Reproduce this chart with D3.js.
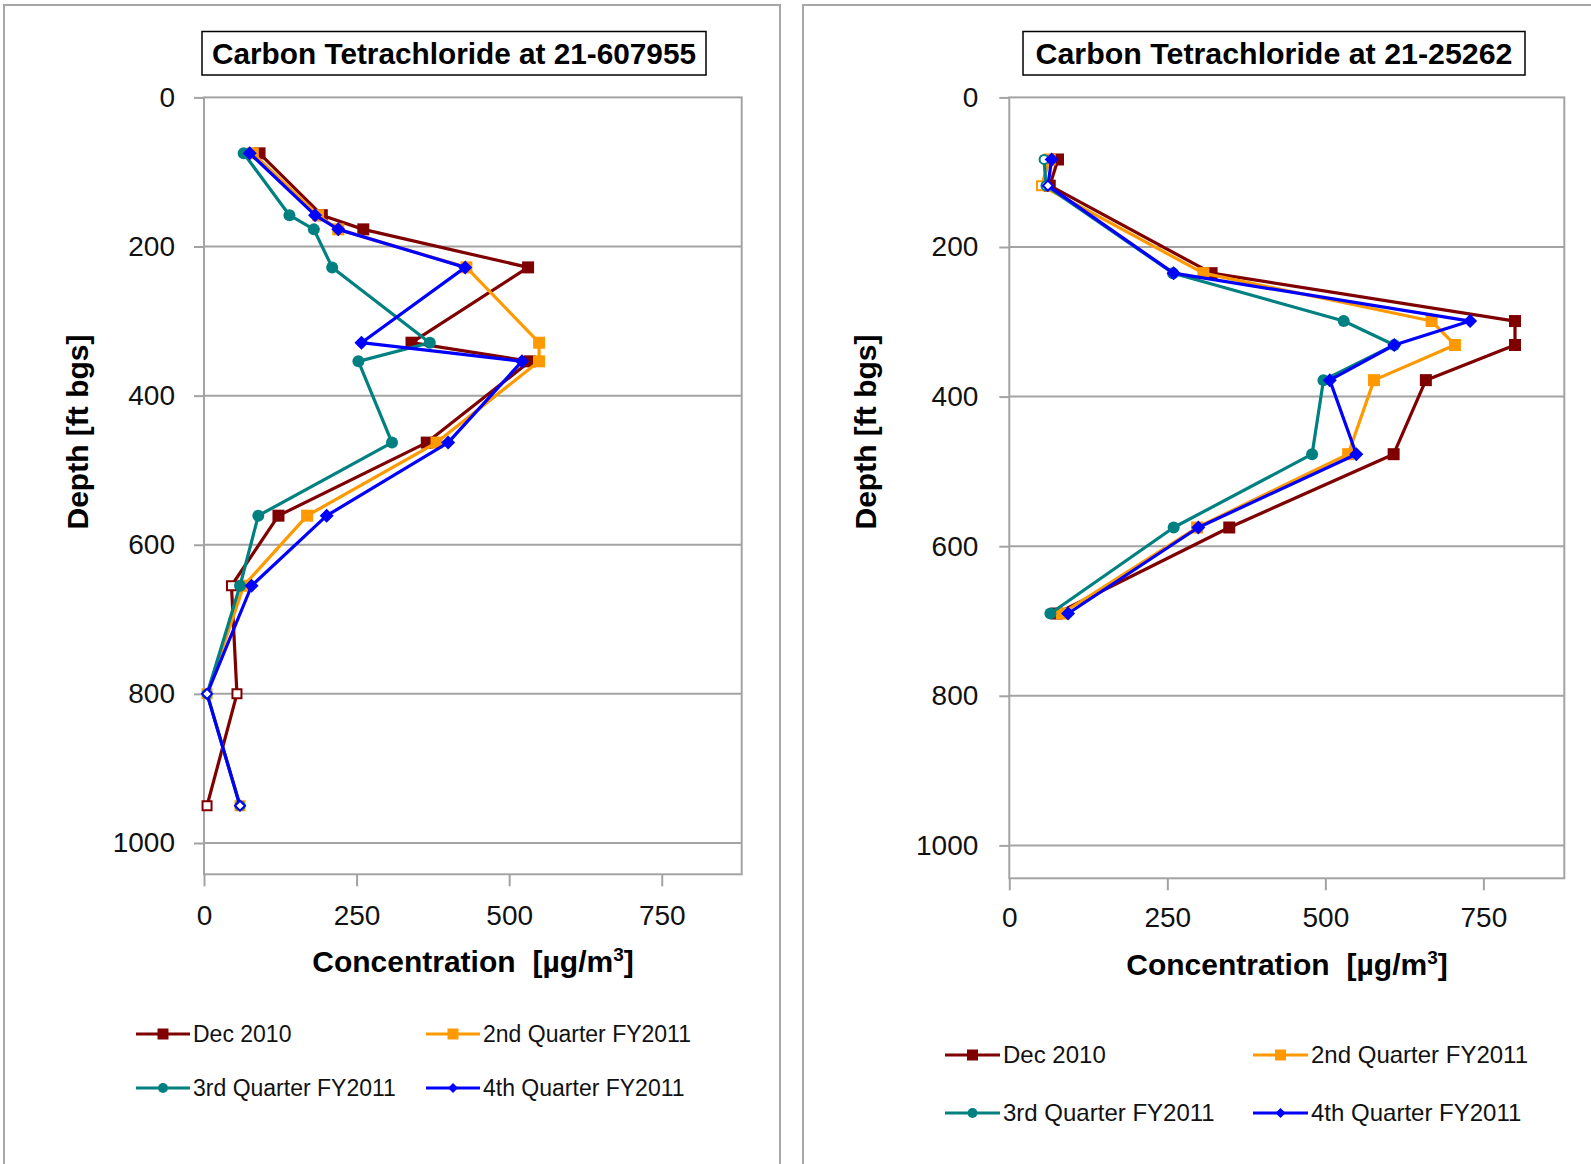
<!DOCTYPE html>
<html>
<head>
<meta charset="utf-8">
<script src="https://cdn.jsdelivr.net/npm/d3@7"></script>
<style>
  body { margin: 0; background: #fff; }
  svg { display: block; font-family: "Liberation Sans", Arial, sans-serif; }
</style>
</head>
<body>
<svg id="chart" width="1591" height="1164"></svg>
<script>
// ---- data ---------------------------------------------------------------
const seriesNames = ["Dec 2010", "2nd Quarter FY2011", "3rd Quarter FY2011", "4th Quarter FY2011"];
const xTicks = [0, 250, 500, 750];
const yTicks = [0, 200, 400, 600, 800, 1000];

// Well 21-607955: sample depths (ft bgs) and carbon tetrachloride (µg/m3)
const depths607955 = [75, 158, 177, 228, 329, 354, 463, 561, 655, 800, 950];
const dec607955 = [91, 193, 261, 531, 340, 534, 365, 122, 45, 54, 5];
const q2_607955 = [80, 187, 220, 430, 549, 549, 381, 169, 65, 5, 59];
const q3_607955 = [65, 140, 180, 210, 370, 253, 308, 89, 59, 5, 59];
const q4_607955 = [75, 182, 220, 428, 258, 521, 400, 201, 78, 5, 59];
// 1 = not detected (hollow marker)
const decND607955 = [0, 0, 0, 0, 0, 0, 0, 0, 1, 1, 1];
const q2ND607955 = [0, 0, 0, 0, 0, 0, 0, 0, 0, 1, 1];
const q3ND607955 = [0, 0, 0, 0, 0, 0, 0, 0, 0, 1, 1];
const q4ND607955 = [0, 0, 0, 0, 0, 0, 0, 0, 0, 1, 1];

// Well 21-25262
const depths25262 = [83, 118, 235, 299, 331, 378, 477, 575, 690];
const dec25262 = [77, 64, 320, 800, 800, 659, 608, 348, 75];
const q2_25262 = [64, 51, 307, 668, 705, 577, 536, 297, 83];
const q3_25262 = [55, 58, 259, 529, 609, 497, 479, 260, 65];
const q4_25262 = [67, 61, 260, 729, 609, 507, 549, 299, 93];
const decND25262 = [0, 0, 0, 0, 0, 0, 0, 0, 0];
const q2ND25262 = [0, 1, 0, 0, 0, 0, 0, 0, 0];
const q3ND25262 = [1, 1, 0, 0, 0, 0, 0, 0, 0];
const q4ND25262 = [0, 1, 0, 0, 0, 0, 0, 0, 0];

// ---- styling ------------------------------------------------------------
const colors = ["#7f0000", "#ff9900", "#008080", "#0000ff"];
const shapes = ["square", "square", "circle", "diamond"];
const gridColor = "#a3a3a3";

const svg = d3.select("#chart");

// panel frames
svg.append("rect").attr("x", 4).attr("y", 5).attr("width", 776).attr("height", 1200)
  .attr("fill", "none").attr("stroke", "#a6a6a6").attr("stroke-width", 2);
svg.append("rect").attr("x", 803).attr("y", 5).attr("width", 900).attr("height", 1200)
  .attr("fill", "none").attr("stroke", "#a6a6a6").attr("stroke-width", 2);

function markerPath(shape, size) {
  if (shape === "circle") return d3.symbol(d3.symbolCircle, Math.PI * (size / 2) ** 2)();
  if (shape === "diamond") {
    const h = size / 2;
    return `M0,${-h}L${h},0L0,${h}L${-h},0Z`;
  }
  return d3.symbol(d3.symbolSquare, size * size)();
}

function drawMarker(g, shape, color, cx, cy, open) {
  const size = open ? (shape === "diamond" ? 10 : 9) : (shape === "diamond" ? 14 : 12);
  g.append("path")
    .attr("d", markerPath(shape, size))
    .attr("transform", `translate(${cx},${cy})`)
    .attr("fill", open ? "#fff" : color)
    .attr("stroke", color)
    .attr("stroke-width", open ? 2 : 0);
}

function drawChart(cfg) {
  const x = d3.scaleLinear().domain([0, cfg.xMax]).range([cfg.left, cfg.right]);
  const y = d3.scaleLinear().domain([0, cfg.yMax]).range([cfg.top, cfg.bottom]);
  const g = svg.append("g");

  // horizontal gridlines
  g.append("g").selectAll("line").data(yTicks.filter(d => d > 0)).join("line")
    .attr("x1", cfg.left).attr("x2", cfg.right)
    .attr("y1", d => y(d)).attr("y2", d => y(d))
    .attr("stroke", gridColor).attr("stroke-width", 2);

  // plot area border
  g.append("rect")
    .attr("x", cfg.left).attr("y", cfg.top)
    .attr("width", cfg.right - cfg.left).attr("height", cfg.bottom - cfg.top)
    .attr("fill", "none").attr("stroke", gridColor).attr("stroke-width", 2);

  // axes
  const yAxis = g.append("g").attr("transform", `translate(${cfg.left},0)`)
    .call(d3.axisLeft(y).tickValues(yTicks).tickFormat(d3.format("d"))
      .tickSize(10).tickPadding(cfg.yPad));
  const xAxis = g.append("g").attr("transform", `translate(0,${cfg.bottom})`)
    .call(d3.axisBottom(x).tickValues(xTicks).tickFormat(d3.format("d"))
      .tickSize(12).tickPadding(cfg.xPad));
  [yAxis, xAxis].forEach(a => {
    a.select(".domain").remove();
    a.selectAll(".tick line").attr("stroke", gridColor).attr("stroke-width", 2);
    a.selectAll(".tick text").attr("fill", "#111").attr("font-size", 28)
      .attr("font-family", "'Liberation Sans', Arial, sans-serif");
  });

  // series: line then markers, in legend order
  cfg.series.forEach((vals, si) => {
    const pts = vals.map((v, i) => [x(v), y(cfg.depths[i]), cfg.nd[si][i]]);
    g.append("path")
      .attr("d", d3.line()(pts.map(p => [p[0], p[1]])))
      .attr("fill", "none").attr("stroke", colors[si]).attr("stroke-width", 3.2)
      .attr("stroke-linejoin", "round");
    pts.forEach(p => drawMarker(g, shapes[si], colors[si], p[0], p[1], p[2] === 1));
  });

  // title box
  g.append("rect")
    .attr("x", cfg.titleBox[0]).attr("y", cfg.titleBox[1])
    .attr("width", cfg.titleBox[2]).attr("height", cfg.titleBox[3])
    .attr("fill", "#fff").attr("stroke", "#000").attr("stroke-width", 1.5);
  g.append("text")
    .attr("x", cfg.titleBox[0] + cfg.titleBox[2] / 2)
    .attr("y", cfg.titleBox[1] + cfg.titleBox[3] / 2 + 11)
    .attr("text-anchor", "middle").attr("font-size", 30).attr("font-weight", "bold")
    .attr("textLength", cfg.titleLen).attr("lengthAdjust", "spacingAndGlyphs")
    .text(cfg.title);

  // axis titles
  g.append("text")
    .attr("transform", `translate(${cfg.yTitle[0]},${cfg.yTitle[1]}) rotate(-90)`)
    .attr("text-anchor", "middle").attr("dy", "0.35em")
    .attr("font-size", 30).attr("font-weight", "bold")
    .text("Depth [ft bgs]");
  const xt = g.append("text")
    .attr("x", cfg.xTitle[0]).attr("y", cfg.xTitle[1])
    .attr("text-anchor", "middle").attr("dy", "0.35em")
    .attr("font-size", 30).attr("font-weight", "bold");
  xt.append("tspan").text("Concentration");
  xt.append("tspan").attr("dx", 17).text("[µg/m");
  xt.append("tspan").attr("font-size", 19).attr("dy", -11).text("3");
  xt.append("tspan").attr("dy", 11).text("]");

  // legend (2 x 2)
  const lg = cfg.legend;
  seriesNames.forEach((name, si) => {
    const col = si % 2, row = Math.floor(si / 2);
    const lx = lg.cols[col], ly = lg.rows[row];
    g.append("line").attr("x1", lx).attr("x2", lx + lg.len).attr("y1", ly).attr("y2", ly)
      .attr("stroke", colors[si]).attr("stroke-width", 3);
    const s = shapes[si] === "diamond" ? 10 : (shapes[si] === "circle" ? 10 : 11);
    g.append("path").attr("d", markerPath(shapes[si], s))
      .attr("transform", `translate(${lx + lg.len / 2},${ly})`)
      .attr("fill", colors[si]);
    g.append("text").attr("x", lx + lg.len + 3).attr("y", ly).attr("dy", "0.35em")
      .attr("font-size", lg.font).attr("fill", "#111").text(name);
  });
}

drawChart({
  title: "Carbon Tetrachloride at 21-607955", titleLen: 484,
  left: 204, right: 741.7, top: 97.4, bottom: 874.3,
  xMax: 881, yMax: 1042, yPad: 19, xPad: 19,
  depths: depths607955,
  series: [dec607955, q2_607955, q3_607955, q4_607955],
  nd: [decND607955, q2ND607955, q3ND607955, q4ND607955],
  titleBox: [202, 31.5, 504, 43.5],
  yTitle: [77, 432], xTitle: [473, 961],
  legend: { cols: [136, 426], rows: [1034, 1088], len: 54, font: 23 }
});

drawChart({
  title: "Carbon Tetrachloride at 21-25262", titleLen: 477,
  left: 1009.3, right: 1564.3, top: 97.4, bottom: 878.3,
  xMax: 878, yMax: 1044, yPad: 21, xPad: 17,
  depths: depths25262,
  series: [dec25262, q2_25262, q3_25262, q4_25262],
  nd: [decND25262, q2ND25262, q3ND25262, q4ND25262],
  titleBox: [1023, 31.5, 502, 43.5],
  yTitle: [865.5, 432], xTitle: [1287, 964],
  legend: { cols: [945, 1253], rows: [1055, 1113], len: 55, font: 24 }
});
</script>
</body>
</html>
